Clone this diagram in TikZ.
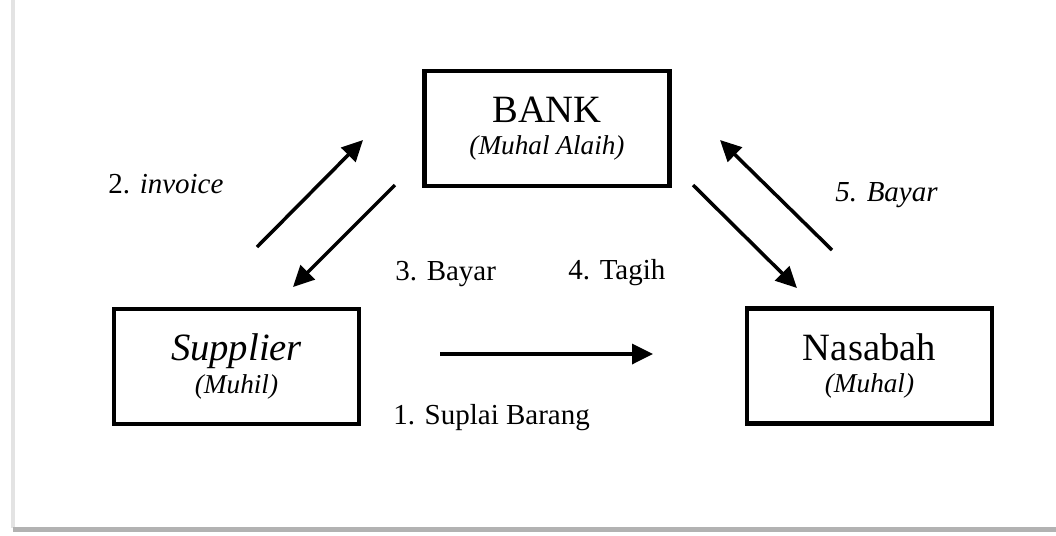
\documentclass[tikz,border=0pt]{standalone}
\usepackage{fontspec}
\setmainfont{Liberation Serif}
\usetikzlibrary{arrows.meta}
\begin{document}
\begin{tikzpicture}[x=0.02cm, y=-0.02cm,
  box/.style={draw, line width=2.8pt, minimum width=4.9cm, minimum height=2.3cm, align=center, inner sep=0pt, font=\fontsize{15.5}{18.5}\selectfont},
  flow/.style={line width=2pt, -{Triangle[length=0.42cm,width=0.4cm]}},
  lbl/.style={anchor=base west, inner sep=0pt, font=\fontsize{16.5}{19}\selectfont}]
\useasboundingbox (0,0) rectangle (1056,535);
% frame shadow
\fill[gray!22] (11,0) rectangle (15,528);
\fill[gray!60] (13,527) rectangle (1056,532);
% the three parties
\node[box] (bank) at (547,128.5) {{\fontsize{22}{26}\selectfont BANK}\\{\itshape (Muhal Alaih)}};
\node[box] (supplier) at (236.5,366.5) {{\fontsize{22}{26}\selectfont\itshape Supplier}\\{\itshape (Muhil)}};
\node[box] (nasabah) at (869.5,366) {{\fontsize{22}{26}\selectfont Nasabah}\\{\itshape (Muhal)}};
% arrow ends
\coordinate (inv-a) at (257,247);  \coordinate (inv-b) at (363,140);
\coordinate (byr-a) at (395,185);  \coordinate (byr-b) at (293,287);
\coordinate (tgh-a) at (693,185);  \coordinate (tgh-b) at (797,288);
\coordinate (pay-a) at (832,250);  \coordinate (pay-b) at (720,140);
\coordinate (spl-a) at (440,354);  \coordinate (spl-b) at (653,354);
\draw[flow] (inv-a) -- (inv-b);
\draw[flow] (byr-a) -- (byr-b);
\draw[flow] (tgh-a) -- (tgh-b);
\draw[flow] (pay-a) -- (pay-b);
\draw[flow] (spl-a) -- (spl-b);
% labels
\node[lbl] (l-inv) at (108,193) {2. \textit{invoice}};
\node[lbl] (l-byr) at (395,280) {3. Bayar};
\node[lbl] (l-tgh) at (568,279) {4. Tagih};
\node[lbl] (l-pay) at (835,201) {\textit{5. Bayar}};
\node[lbl] (l-spl) at (393,424) {1. Suplai Barang};
\end{tikzpicture}
\end{document}
